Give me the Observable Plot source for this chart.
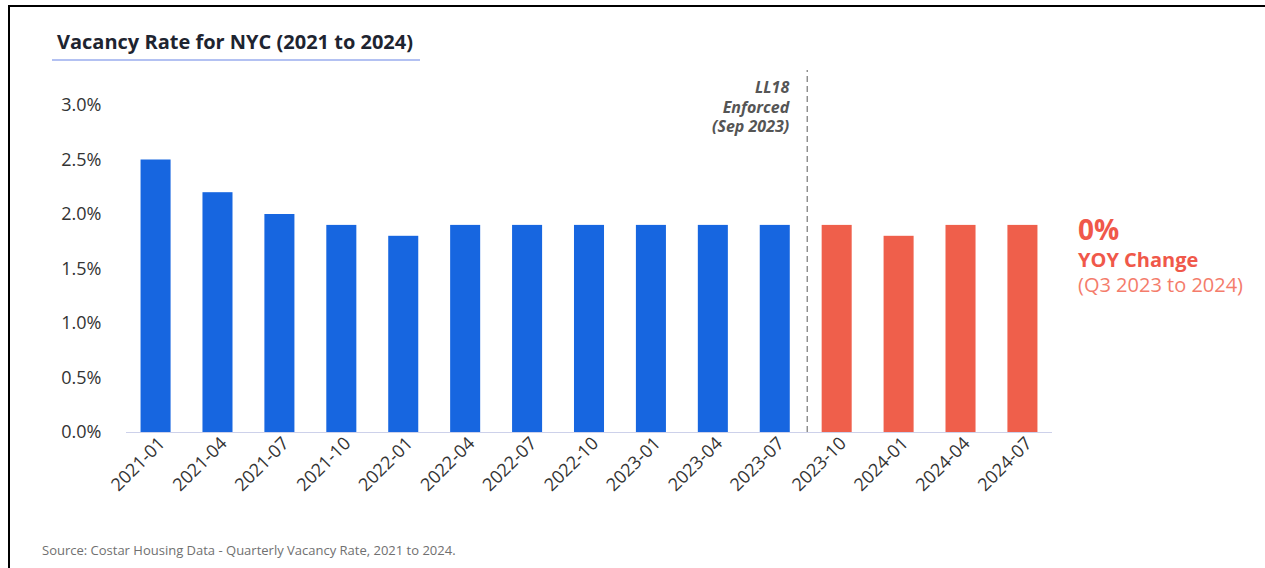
<!DOCTYPE html>
<html>
<head>
<meta charset="utf-8">
<script src="https://cdn.jsdelivr.net/npm/d3@7"></script>
<script src="https://cdn.jsdelivr.net/npm/@observablehq/plot@0.6"></script>
<style>
  html, body { margin: 0; padding: 0; background: #fff; }
  #wrap { position: relative; width: 1265px; height: 568px; overflow: hidden; font-family: "Open Sans", sans-serif; }
  #wrap svg { position: absolute; left: 0; top: 0; }
  .bl { position: absolute; left: 8px; top: 5px; width: 2px; height: 563px; background: #000; }
  .bt { position: absolute; left: 8px; top: 5px; width: 1257px; height: 2px; background: #000; }
  #title { position: absolute; left: 57px; top: 29px; font-size: 20px; font-weight: 700; color: #1e2430; line-height: 26px; white-space: nowrap; }
  #uline { position: absolute; left: 52px; top: 59px; width: 368px; height: 2px; background: #b3c1f2; }
  #foot { position: absolute; left: 42px; top: 541px; font-size: 13px; color: #707070; white-space: nowrap; }
  #ann { position: absolute; left: 1078px; top: 211px; color: #f0584a; white-space: nowrap; }
  #ann .big { font-size: 28px; font-weight: 700; line-height: 36px; }
  #ann .mid { font-size: 20px; font-weight: 700; line-height: 25px; }
  #ann .sub { font-size: 20px; font-weight: 400; line-height: 26px; color: #f47c6b; }
</style>
</head>
<body>
<div id="wrap">
  <div class="bl"></div><div class="bt"></div>
  <div id="title">Vacancy Rate for NYC (2021 to 2024)</div>
  <div id="uline"></div>
  <div id="ann"><div class="big">0%</div><div class="mid">YOY Change</div><div class="sub">(Q3 2023 to 2024)</div></div>
  <div id="foot">Source: Costar Housing Data - Quarterly Vacancy Rate, 2021 to 2024.</div>
</div>
<script>
const quarters = ["2021-01","2021-04","2021-07","2021-10","2022-01","2022-04","2022-07","2022-10","2023-01","2023-04","2023-07","2023-10","2024-01","2024-04","2024-07"];
const vacancy = [2.5, 2.2, 2.0, 1.9, 1.8, 1.9, 1.9, 1.9, 1.9, 1.9, 1.9, 1.9, 1.8, 1.9, 1.9];
const period = ["before","before","before","before","before","before","before","before","before","before","before","after","after","after","after"];
const yTicks = [0, 0.5, 1.0, 1.5, 2.0, 2.5, 3.0];
const enforcedAt = "2023-10";
const enforcedLines = ["LL18", "Enforced", "(Sep 2023)"];
const enforcedY = [3.16, 2.98, 2.80];

const data = quarters.map((q, i) => ({quarter: q, value: vacancy[i], period: period[i]}));
const labelData = enforcedLines.map((t, i) => ({text: t, y: enforcedY[i]}));

const W = 1265, H = 568, mL = 126, mR = 213;
const pIn = 0.515, pOut = 0.235;
const step = (W - mL - mR) / (quarters.length - pIn + 2 * pOut);

const chart = Plot.plot({
  width: W, height: H,
  marginLeft: mL, marginRight: mR, marginTop: 105, marginBottom: 136,
  style: {fontFamily: "Open Sans, sans-serif", fontSize: "18px", color: "#333", background: "transparent"},
  x: {domain: quarters, paddingInner: pIn, paddingOuter: pOut, round: false, label: null},
  y: {domain: [0, 3.0], label: null},
  color: {domain: ["before","after"], range: ["#1766e0", "#ef5f4b"]},
  marks: [
    Plot.barY(data, {x: "quarter", y: "value", fill: "period"}),
    Plot.ruleY([0], {stroke: "#cdd1ea", strokeWidth: 1.2}),
    Plot.ruleX([enforcedAt], {dx: -step / 2 + 1, y1: 0, y2: 3.32, stroke: "#777", strokeWidth: 1.2, strokeDasharray: "6,4"}),
    Plot.text(labelData, {x: () => enforcedAt, y: "y", dx: -step / 2 - 17, text: "text", textAnchor: "end", fontSize: 16, fontWeight: 700, fontStyle: "italic", fill: "#555"}),
    Plot.axisY({ticks: yTicks, tickSize: 0, tickPadding: 25, tickFormat: d => d.toFixed(1) + "%", fontSize: 18, fill: "#333"}),
    Plot.axisX({tickSize: 0, tickRotate: -45, tickPadding: 8, fontSize: 18, fill: "#333", dx: 6})
  ]
});
document.getElementById("wrap").prepend(chart);
</script>
</body>
</html>
